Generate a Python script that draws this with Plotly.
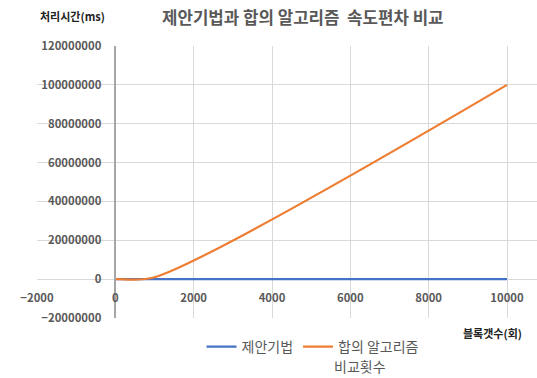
import plotly.graph_objects as go

# Block counts and measured processing times (ms)
block_counts = [10, 100, 1000, 10000]
proposed_ms = [12, 120, 1300, 13500]
consensus_ms = [100, 10000, 1000000, 100000000]

series_names = ["제안기법", "합의 알고리즘"]
series_colors = ["#4472C4", "#ED7D31"]

x_ticks = [-2000, 0, 2000, 4000, 6000, 8000, 10000]
y_ticks = [-20000000, 0, 20000000, 40000000, 60000000, 80000000, 100000000, 120000000]

# non-breaking space keeps the double gap in the title
chart_title = "제안기법과 합의 알고리즘\u00a0 속도편차 비교"
y_title = "처리시간(ms)"
x_title = "블록갯수(회)"
sub_caption = "비교횟수"

W, H = 537, 378
ML, MR, MT, MB = 37, 0, 46, 60
PW, PH = W - ML - MR, H - MT - MB
X_RANGE = [-2000, 10766]
Y_RANGE = [-20000000, 120000000]

FONT = "Noto Sans CJK KR"
GRAY = "#595959"


def px_x(px):
    return (px - ML) / PW


def px_y(py):
    return (H - MB - py) / PH


fig = go.Figure()
for name, vals, color in zip(series_names, [proposed_ms, consensus_ms], series_colors):
    fig.add_trace(go.Scatter(
        x=block_counts, y=vals, name=name, mode="lines",
        line=dict(color=color, width=2.2, shape="spline", smoothing=0.85),
    ))

fig.update_layout(
    width=W, height=H,
    margin=dict(l=ML, r=MR, t=MT, b=MB, autoexpand=False),
    paper_bgcolor="white", plot_bgcolor="white",
    font=dict(family=FONT, color=GRAY),
    showlegend=True,
    legend=dict(
        orientation="h", x=px_x(313), y=px_y(347), xanchor="center", yanchor="middle",
        font=dict(family=FONT, size=14, color=GRAY), bgcolor="rgba(0,0,0,0)",
        itemwidth=30, tracegroupgap=0,
    ),
    xaxis=dict(
        range=X_RANGE, tickvals=x_ticks, tickformat="d",
        showgrid=True, gridcolor="#d9d9d9", gridwidth=1,
        zeroline=False, showline=False,
        anchor="free", position=(0 - Y_RANGE[0]) / (Y_RANGE[1] - Y_RANGE[0]),
        tickfont=dict(family=FONT, size=11.3, color=GRAY, weight="bold"),
        ticklabelstandoff=11, automargin=False,
    ),
    yaxis=dict(
        range=Y_RANGE, tickvals=y_ticks, tickformat="d",
        showgrid=True, gridcolor="#d9d9d9", gridwidth=1,
        zeroline=False, showline=True, linecolor="#a6a6a6", linewidth=1.5,
        anchor="free", position=(0 - X_RANGE[0]) / (X_RANGE[1] - X_RANGE[0]),
        tickfont=dict(family=FONT, size=11.3, color=GRAY, weight="bold"),
        ticklabelstandoff=11, automargin=False,
    ),
    annotations=[
        dict(text=chart_title, x=px_x(303), y=px_y(17), xref="paper", yref="paper",
             showarrow=False, xanchor="center", yanchor="middle",
             font=dict(family=FONT, size=16.8, color=GRAY, weight=600)),
        dict(text=y_title, x=px_x(72), y=px_y(16), xref="paper", yref="paper",
             showarrow=False, xanchor="center", yanchor="middle",
             font=dict(family=FONT, size=11, color="#222222", weight="bold")),
        dict(text=x_title, x=px_x(492), y=px_y(333), xref="paper", yref="paper",
             showarrow=False, xanchor="center", yanchor="middle",
             font=dict(family=FONT, size=11, color="#222222", weight="bold")),
        dict(text=sub_caption, x=px_x(360), y=px_y(366), xref="paper", yref="paper",
             showarrow=False, xanchor="center", yanchor="middle",
             font=dict(family=FONT, size=14, color=GRAY)),
    ],
)

fig.write_html("out.html")
